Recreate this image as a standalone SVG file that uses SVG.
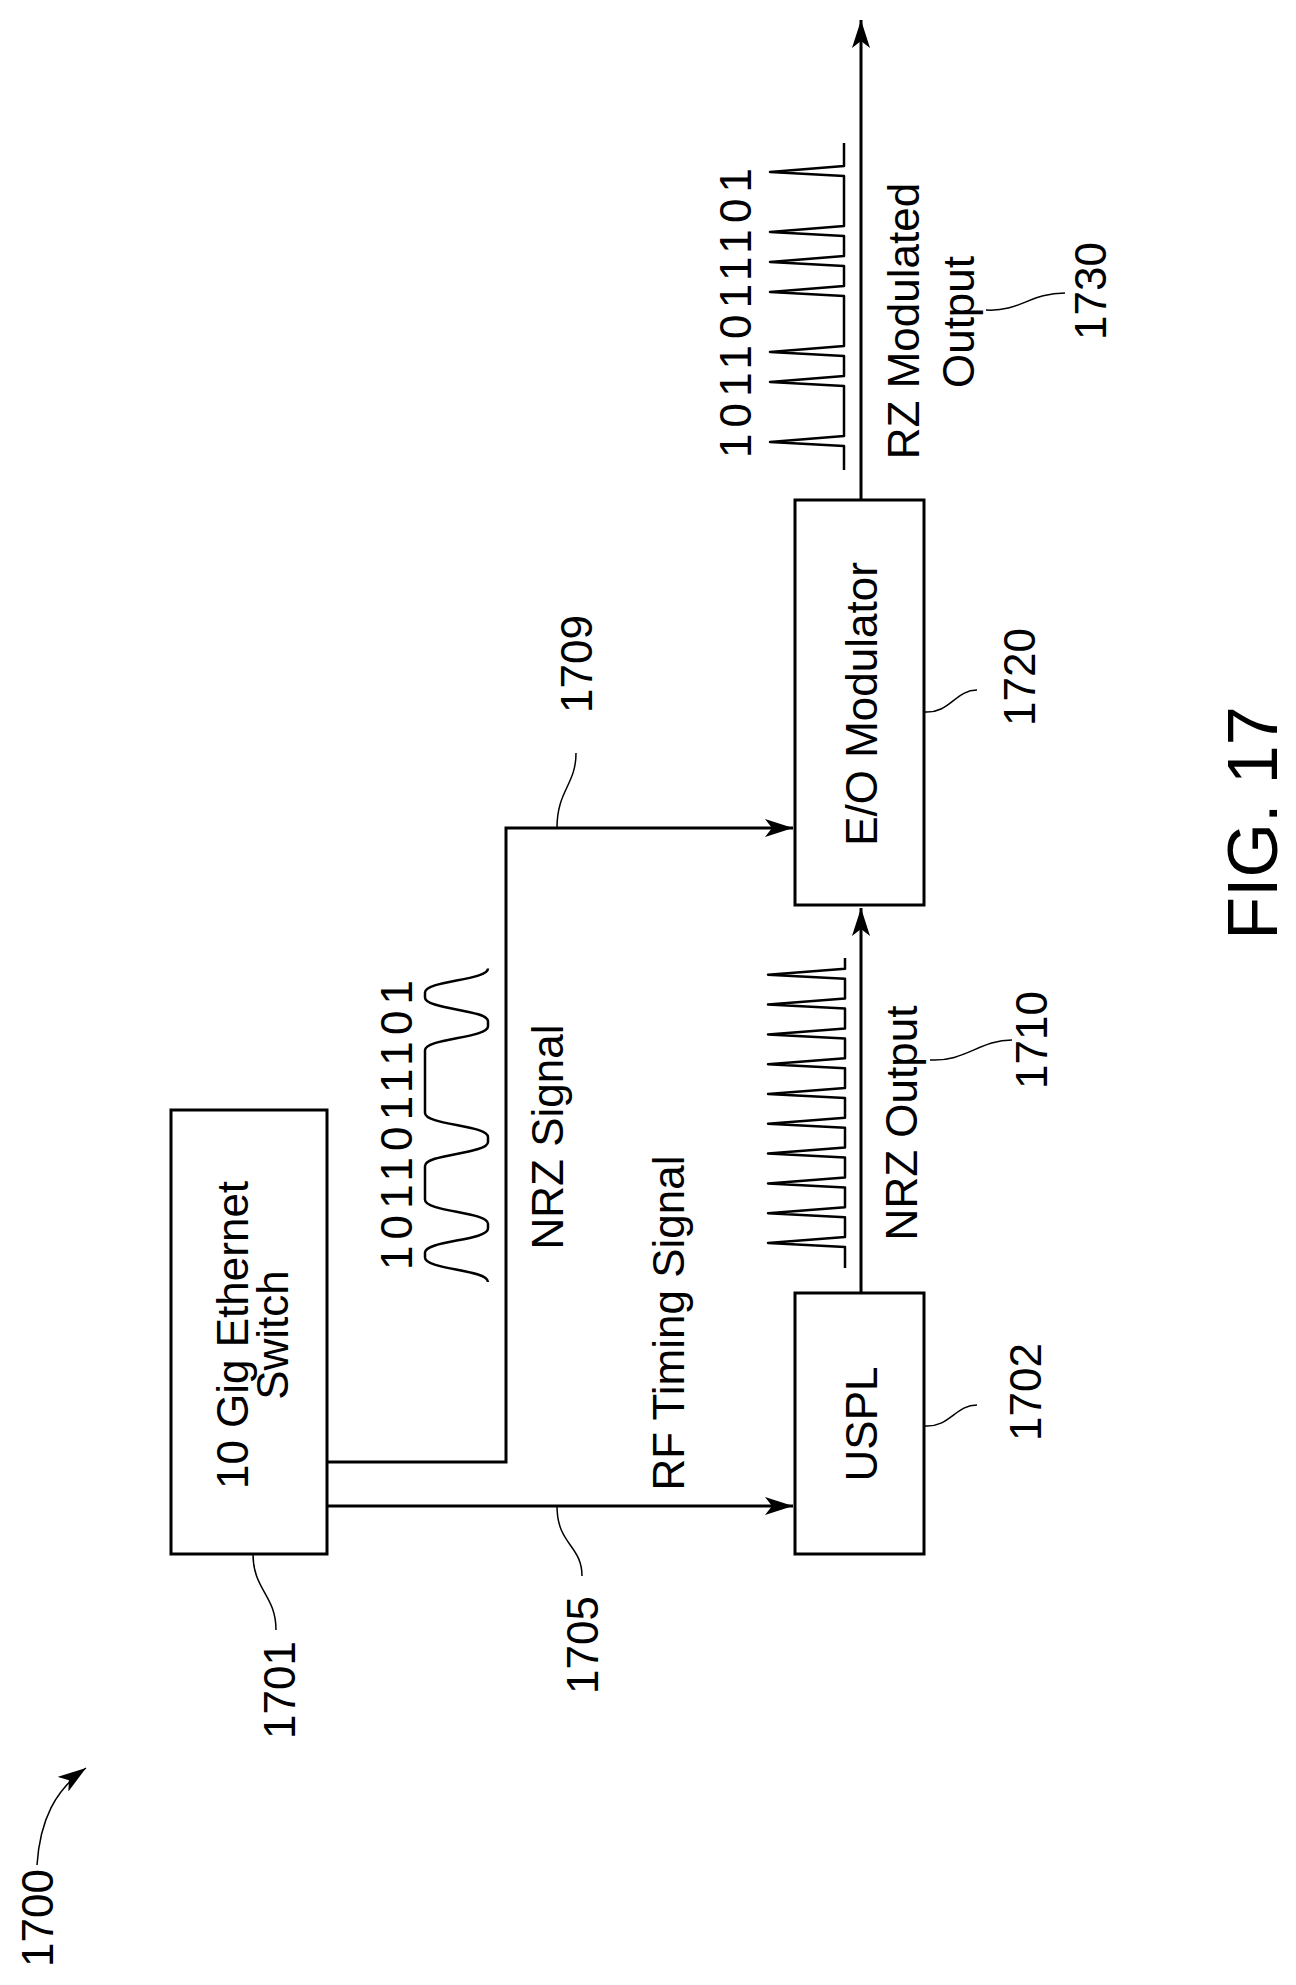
<svg xmlns="http://www.w3.org/2000/svg" width="1296" height="1985" viewBox="0 0 1296 1985">
<style>
text{font-family:"Liberation Sans",Arial,sans-serif;font-size:44px;fill:#000;text-anchor:middle;dominant-baseline:central}
.box{fill:#fff;stroke:#000;stroke-width:3}
.ln{fill:none;stroke:#000;stroke-width:3}
.wv{fill:none;stroke:#000;stroke-width:2.5;stroke-linejoin:round}
.ld{fill:none;stroke:#000;stroke-width:1.5}
</style>
<defs>
<marker id="ah" markerUnits="userSpaceOnUse" markerWidth="30" markerHeight="18" refX="28" refY="9" orient="auto">
<path d="M0,0 L28,9 L0,18 L7,9 Z" fill="#000"/>
</marker>
</defs>
<g id="connectors">
<path class="ln" d="M327,1462 H506 V828 H793" marker-end="url(#ah)"/>
<path class="ln" d="M327,1506 H793" marker-end="url(#ah)"/>
<path class="ln" d="M861,1293 V908" marker-end="url(#ah)"/>
<path class="ln" d="M861,500 V20" marker-end="url(#ah)"/>
</g>
<g id="n1701">
<rect class="box" x="171" y="1110" width="156" height="444"/>
<text transform="translate(232,1335) rotate(-90)">10 Gig Ethernet</text>
<text transform="translate(272,1335) rotate(-90)">Switch</text>
<path class="ld" d="M253,1554 C253,1590 276,1595 276,1630"/>
<text transform="translate(279,1690) rotate(-90)">1701</text>
</g>
<g id="n1702">
<rect class="box" x="795" y="1293" width="129" height="261"/>
<text transform="translate(861,1424) rotate(-90)">USPL</text>
<path class="ld" d="M924,1426 C950,1428 955,1405 977,1405"/>
<text transform="translate(1025,1392) rotate(-90)">1702</text>
</g>
<g id="n1720">
<rect class="box" x="795" y="500" width="129" height="405"/>
<text transform="translate(861,704) rotate(-90)">E/O Modulator</text>
<path class="ld" d="M924,712 C950,714 955,690 977,690"/>
<text transform="translate(1019,677) rotate(-90)">1720</text>
</g>
<g id="nrz-signal">
<text transform="translate(396,1125) rotate(-90)" textLength="290" lengthAdjust="spacing">1011011101</text>
<path class="wv" d="M488,1282 C488,1269.5 425,1269.5 425,1257.5 L425,1252.6 C425,1240.6 488,1240.6 488,1228.6 L488,1223.7 C488,1211.7 425,1211.7 425,1199.7 L425,1165.9 C425,1153.9 488,1153.9 488,1141.9 L488,1137 C488,1125 425,1125 425,1113 L425,1050.3 C425,1038.3 488,1038.3 488,1026.3 L488,1021.4 C488,1009.4 425,1009.4 425,997.4 L425,992.5 C425,980.5 488,980.5 488,968.5"/>
<text transform="translate(547,1137) rotate(-90)">NRZ Signal</text>
<text transform="translate(668,1323) rotate(-90)">RF Timing Signal</text>
<path class="ld" d="M557,828 C557,790 576,785 576,753"/>
<text transform="translate(576,664) rotate(-90)">1709</text>
<path class="ld" d="M557,1506 C557,1545 582,1545 582,1576"/>
<text transform="translate(582,1645) rotate(-90)">1705</text>
</g>
<g id="nrz-output">
<path class="wv" d="M845,1268 L845,1247 L768,1243 L845,1237 L845,1217.2 L768,1213.2 L845,1207.2 L845,1187.4 L768,1183.4 L845,1177.4 L845,1157.6 L768,1153.6 L845,1147.6 L845,1127.8 L768,1123.8 L845,1117.8 L845,1098 L768,1094 L845,1088 L845,1068.2 L768,1064.2 L845,1058.2 L845,1038.4 L768,1034.4 L845,1028.4 L845,1008.6 L768,1004.6 L845,998.6 L845,978.8 L768,974.8 L845,968.8 L845,958"/>
<text transform="translate(901,1123) rotate(-90)">NRZ Output</text>
<path class="ld" d="M930,1060 C965,1062 980,1040 1012,1040"/>
<text transform="translate(1031,1040) rotate(-90)">1710</text>
</g>
<g id="rz-output">
<text transform="translate(735,313) rotate(-90)" textLength="290" lengthAdjust="spacing">1011011101</text>
<path class="wv" d="M844,470 L844,446 L770,442 L844,436 L844,386 L770,382 L844,376 L844,356 L770,352 L844,346 L844,296 L770,292 L844,286 L844,266 L770,262 L844,256 L844,236 L770,232 L844,226 L844,176 L770,172 L844,166 L844,143"/>
<text transform="translate(903,321) rotate(-90)">RZ Modulated</text>
<text transform="translate(958,322) rotate(-90)">Output</text>
<path class="ld" d="M986,310 C1020,312 1030,293 1065,293"/>
<text transform="translate(1090,291) rotate(-90)">1730</text>
</g>
<g id="ref1700">
<path class="ld" d="M37,1865 C40,1820 55,1790 86,1768" marker-end="url(#ah)"/>
<text transform="translate(37,1918) rotate(-90)">1700</text>
</g>
<text transform="translate(1253,823) rotate(-90)" style="font-size:70px">FIG. 17</text>
</svg>
